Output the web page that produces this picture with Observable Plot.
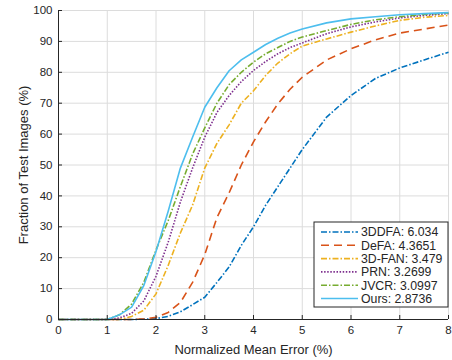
<!DOCTYPE html>
<html><head><meta charset="utf-8">
<script src="https://cdn.jsdelivr.net/npm/d3@7"></script>
<script src="https://cdn.jsdelivr.net/npm/@observablehq/plot@0.6"></script>
<style>
body{margin:0;background:#fff}
svg{font-family:"Liberation Sans",Arial,Helvetica,sans-serif}
</style>
</head><body><div id="chart"></div>
<script>
// x positions (Normalized Mean Error, %)
const xs = [0, 1, 1.25, 1.5, 1.75, 2, 2.25, 2.5, 2.75, 3, 3.25, 3.5, 3.75, 4, 4.25, 4.5, 4.75, 5, 5.5, 6, 6.5, 7, 7.5, 8];
// Fraction of test images (%)
const v3DDFA = [0, 0, 0, 0, 0.1, 0.3, 1, 2.5, 4.8, 7.2, 12, 17, 24, 30, 37, 43, 49, 55, 65.5, 72.5, 78, 81.4, 84, 86.5];
const vDeFA  = [0, 0, 0, 0, 0.2, 0.7, 2.3, 5.5, 12, 21, 33, 41, 50, 57.5, 64, 69.8, 74.5, 78.4, 84, 87.6, 90.5, 92.7, 94, 95.3];
const v3DFAN = [0, 0, 0, 1, 3, 8.3, 17.5, 28, 37, 49, 57, 63, 70, 74, 79, 83, 86, 88.5, 90.8, 93, 95, 96.8, 97.8, 98.4];
const vPRN   = [0, 0, 0.5, 2, 6, 14, 25, 38, 49, 59, 67, 72.5, 77, 80.6, 83.5, 86, 88, 89.5, 92.5, 94.7, 96.3, 97.6, 98.4, 99];
const vJVCR  = [0, 0, 1.5, 5, 12, 22.5, 32, 43, 53.5, 62, 70, 76, 80, 83.3, 86, 88, 90, 91.4, 93.5, 95.5, 97, 98, 98.7, 99.2];
const vOurs  = [0, 0, 1.5, 4, 11, 22, 35, 49, 59, 68.7, 75, 80.5, 84, 86.5, 89, 91, 92.7, 94, 96, 97.3, 98, 98.6, 99, 99.3];

const seriesNames = ["3DDFA: 6.034", "DeFA: 4.3651", "3D-FAN: 3.479", "PRN: 3.2699", "JVCR: 3.0997", "Ours: 2.8736"];
const seriesValues = [v3DDFA, vDeFA, v3DFAN, vPRN, vJVCR, vOurs];
const seriesColors = ["#0072BD", "#D95319", "#EDB120", "#7E2F8E", "#77AC30", "#4DBEEE"];
const seriesDash = ["6,2,1.5,2", "8,5", "6,2,1.5,2", "1.5,1.6", "6,2,1.5,2", null];

const xTicks = [0, 1, 2, 3, 4, 5, 6, 7, 8];
const yTicks = [0, 10, 20, 30, 40, 50, 60, 70, 80, 90, 100];

const lineMarks = seriesNames.map((name, i) => Plot.line(
  xs.map((x, j) => ({x, y: seriesValues[i][j]})),
  {x: "x", y: "y", stroke: seriesColors[i], strokeWidth: 1.6,
   strokeDasharray: seriesDash[i] || undefined, strokeLinecap: "butt"}
));

const ink = "#262626";
const chart = Plot.plot({
  width: 452, height: 360,
  marginLeft: 58, marginRight: 4, marginTop: 10, marginBottom: 41,
  style: {fontSize: "11.5px", color: ink, background: "#fff"},
  x: {domain: [0, 8]},
  y: {domain: [0, 100]},
  marks: [
    Plot.gridX(xTicks, {stroke: "#dcdcdc", strokeOpacity: 1}),
    Plot.gridY(yTicks, {stroke: "#dcdcdc", strokeOpacity: 1}),
    ...lineMarks,
    Plot.ruleX([0], {stroke: ink}),
    Plot.ruleY([0], {stroke: ink}),
    Plot.axisX(xTicks, {tickSize: -4, tickPadding: 10, stroke: ink, color: ink,
      label: "Normalized Mean Error (%)", labelAnchor: "center", labelOffset: 34, labelArrow: "none", fontSize: 11.5}),
    Plot.axisY(yTicks, {tickSize: -4, tickPadding: 10, stroke: ink, color: ink,
      label: "Fraction of Test Images (%)", labelAnchor: "center", labelOffset: 40, labelArrow: "none", fontSize: 11.5})
  ]
});
document.getElementById("chart").appendChild(chart);

// enlarge axis titles
d3.select(chart).selectAll("g[aria-label='x-axis label'] text, g[aria-label='y-axis label'] text")
  .style("font-size", "13px");

// legend box (MATLAB style, inside the axes)
const svg = d3.select(chart);
const lg = svg.append("g").attr("transform", "translate(314,222)").attr("text-anchor", "start");
lg.append("rect").attr("width", 134).attr("height", 85)
  .attr("fill", "#fff").attr("stroke", ink).attr("stroke-width", 1);
seriesNames.forEach((name, i) => {
  const yy = 10 + i * 13.3;
  lg.append("line").attr("x1", 7).attr("x2", 44).attr("y1", yy).attr("y2", yy)
    .attr("stroke", seriesColors[i]).attr("stroke-width", 1.6)
    .attr("stroke-dasharray", seriesDash[i]);
  lg.append("text").attr("x", 47).attr("y", yy).attr("dy", "0.35em")
    .attr("text-anchor", "start")
    .attr("font-size", "12.3px").attr("fill", ink).text(name);
});
</script>
</body></html>
